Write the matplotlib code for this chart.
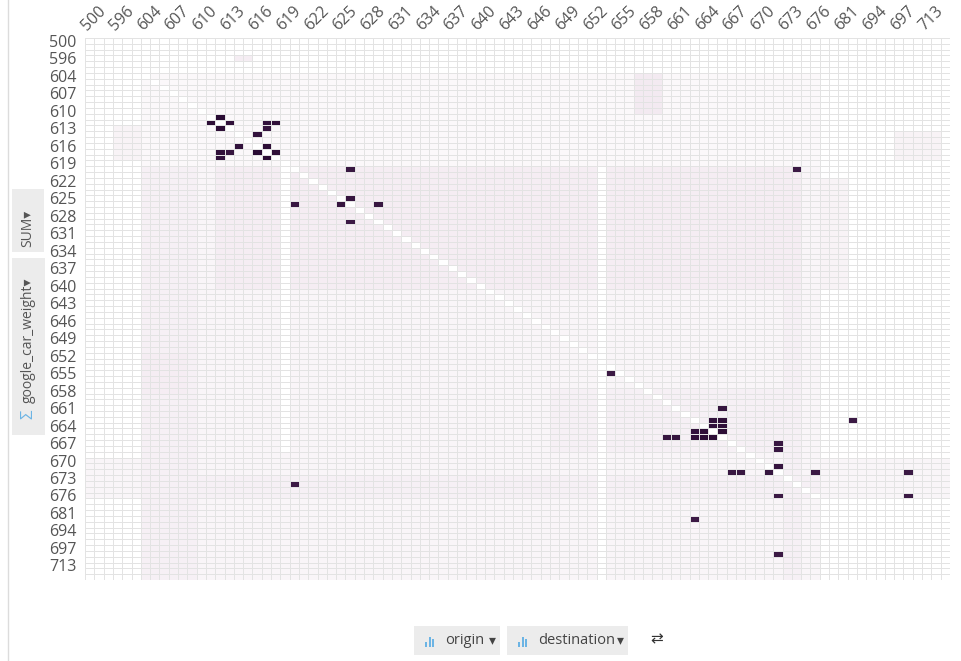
import numpy as np
import matplotlib
matplotlib.use("Agg")
import matplotlib.pyplot as plt
from matplotlib.colors import LinearSegmentedColormap
from matplotlib.patches import Rectangle

plt.rcParams['font.family'] = ['Open Sans', 'DejaVu Sans']

# origin / destination codes (same set on both axes)
codes = [500, 583, 590, 596, 601, 602,
         604, 605, 606, 607, 608, 609, 610, 611, 612, 613, 614, 615, 616, 617,
         618, 619, 620, 621, 622, 623, 624, 625, 626, 627, 628, 629, 630, 631,
         632, 633, 634, 635, 636, 637, 638, 639, 640, 641, 642, 643, 644, 645,
         646, 647, 648, 649, 650, 651, 652, 653, 654, 655, 656, 657, 658, 659,
         660, 661, 662, 663, 664, 665, 666, 667, 668, 669, 670, 671, 672, 673,
         674, 675, 676,
         678, 679, 681, 686, 690, 694, 695, 696, 697, 700, 705, 713, 714, 720]

# heavy flows: (origin, destination)
heavy_origin = [611, 612, 612, 613, 616, 617, 617, 618,
                612, 612, 613, 614, 616, 617, 617, 618,
                620, 620, 626, 626, 625, 626, 629,
                655, 661, 663, 663, 664, 664,
                665, 665, 665, 666, 666, 666, 666, 666,
                663, 667, 668, 671, 672, 672, 672, 672, 672,
                674, 676, 676, 686, 700]
heavy_dest = [612, 611, 613, 612, 617, 616, 618, 617,
              617, 618, 617, 616, 614, 612, 613, 612,
              626, 674, 620, 625, 626, 629, 626,
              654, 666, 665, 666, 665, 666,
              663, 664, 666, 660, 661, 663, 664, 665,
              686, 672, 672, 672, 667, 668, 671, 676, 700,
              620, 672, 700, 663, 672]
heavy_value = [46, 45, 44, 45, 45, 46, 44, 45,
               43, 44, 42, 43, 43, 44, 42, 43,
               41, 40, 41, 42, 42, 41, 40,
               40, 42, 43, 44, 43, 44,
               43, 44, 45, 41, 42, 44, 45, 45,
               40, 41, 41, 42, 41, 41, 42, 40, 40,
               40, 40, 40, 40, 40]

# light background flows: origin range, destination range, level
light_origin = [(604, 619), (620, 720), (620, 640), (658, 668), (670, 676),
                (673, 676), (613, 618), (604, 610), (622, 640), (614, 618),
                (596, 596), (652, 658), (620, 720), (620, 720)]
light_dest = [(604, 676), (604, 676), (612, 674), (648, 672), (500, 720),
              (604, 676), (596, 602), (657, 659), (678, 681), (697, 714),
              (614, 615), (604, 608), (673, 674), (604, 609)]
light_level = [0.12, 0.3, 0.75, 0.7, 0.3,
               0.7, 0.4, 1.0, 0.4, 0.5,
               0.9, 0.9, 0.7, 0.55]

# empty stripes: origin range, destination range
empty_origin = [(620, 668), (620, 720)]
empty_dest = [(619, 619), (653, 653)]

idx = {c: i for i, c in enumerate(codes)}
n = len(codes)
grid = np.zeros((n, n))

for (o0, o1), (d0, d1), v in zip(light_origin, light_dest, light_level):
    grid[idx[o0]:idx[o1] + 1, idx[d0]:idx[d1] + 1] = np.maximum(
        grid[idx[o0]:idx[o1] + 1, idx[d0]:idx[d1] + 1], v)
for (o0, o1), (d0, d1) in zip(empty_origin, empty_dest):
    grid[idx[o0]:idx[o1] + 1, idx[d0]:idx[d1] + 1] = 0
np.fill_diagonal(grid, 0)
for o, d, v in zip(heavy_origin, heavy_dest, heavy_value):
    grid[idx[o], idx[d]] = v

cmap = LinearSegmentedColormap.from_list(
    "flow", [(0, "#fbf8fa"), (0.03, "#efe3ec"), (0.08, "#e2cfde"),
             (0.4, "#7a4a7e"), (1, "#2a0c34")])
cmap.set_under("white")

fig = plt.figure(figsize=(9.61, 6.61), dpi=100)
W, H = 961, 661

def fx(x):
    return x / W

def fy(y):
    return 1 - y / H

ax = fig.add_axes([fx(85), fy(580), 865 / W, 542 / H])
ax.pcolormesh(np.arange(n + 1), np.arange(n + 1), grid, cmap=cmap,
              vmin=0.01, vmax=46, edgecolors="#e3e3e3", linewidth=0.6)
ax.set_xlim(0, n)
ax.set_ylim(n, 0)
for s in ax.spines.values():
    s.set_visible(False)

ticks = np.arange(0, n, 3)
ax.set_yticks(ticks + 0.5)
ax.set_yticklabels([str(codes[i]) for i in ticks], fontsize=11.5, color="#555555")
ax.set_xticks(ticks + 0.5)
ax.xaxis.tick_top()
ax.set_xticklabels([str(codes[i]) for i in ticks], fontsize=11.5, color="#555555",
                   rotation=45, ha="left", va="bottom", rotation_mode="anchor")
ax.tick_params(axis="y", length=0, pad=6)
ax.tick_params(axis="x", length=0, pad=3)

# left shelf with the value field
fig.add_artist(plt.Line2D([fx(7.5), fx(7.5)], [0, 1], color="#dcdcdc", lw=1))
fig.add_artist(Rectangle((fx(12), fy(252)), 32 / W, 63 / H, color="#ececec", lw=0))
fig.add_artist(Rectangle((fx(12), fy(435)), 33 / W, 177 / H, color="#ececec", lw=0))
fig.text(fx(28), fy(228), "SUM\u25be", rotation=90, ha="center", va="center",
         fontsize=10, color="#555555")
fig.text(fx(28), fy(340), "google_car_weight\u25be", rotation=90, ha="center",
         va="center", fontsize=10, color="#555555")
fig.text(fx(28), fy(414), "\u03a3", rotation=90, ha="center", va="center",
         fontsize=12, color="#6cb4e4")

# bottom shelf with the dimensions
def shelf_button(x0, x1, label):
    fig.add_artist(Rectangle((fx(x0), fy(655)), (x1 - x0) / W, 29 / H,
                             color="#ececec", lw=0))
    for k, h in enumerate([5, 10, 8]):
        fig.add_artist(Rectangle((fx(x0 + 11 + k * 3.5), fy(647)), 2.2 / W, h / H,
                                 color="#6cb4e4", lw=0))
    fig.text(fx(x0 + 31), fy(640), label, ha="left", va="center",
             fontsize=10.5, color="#444444")
    fig.text(fx(x1 - 8), fy(640), "\u25be", ha="center", va="center",
             fontsize=10, color="#444444", family="DejaVu Sans")

shelf_button(414, 500, "origin")
shelf_button(507, 628, "destination")
fig.text(fx(657), fy(639), "\u21c4", ha="center", va="center", fontsize=11,
         color="#333333", family="DejaVu Sans")

fig.savefig("out.png", dpi=100)
